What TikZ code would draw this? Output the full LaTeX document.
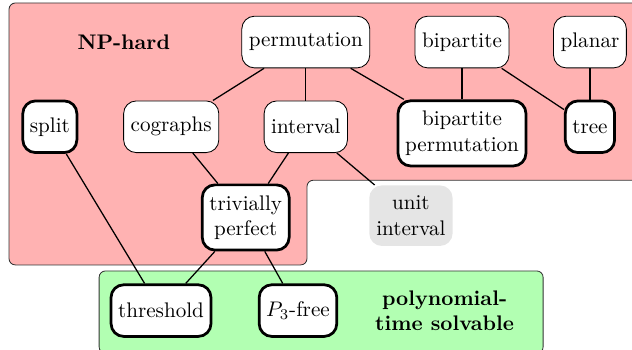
\documentclass[tikz,border=0pt]{standalone}
\usepackage{xcolor}
\usepackage{tikz}
\usetikzlibrary{arrows.meta, positioning, calc, backgrounds}
\usepackage{amsmath}

\begin{document}
\begin{tikzpicture}[
        class/.style={rectangle, rounded corners=6pt, draw, fill=white, minimum height=0.86cm, inner ysep=5pt, align=center},
        hard/.style={class, line width=1.3pt},
        open/.style={class, draw=none, fill=black!10},
        region/.style={draw=black!80, rounded corners=3pt},
        edge/.style={semithick}
    ]

    \useasboundingbox (0,0) rectangle (10.52,-5.81);

    % Regions
    \begin{scope}
    \clip (0,0) rectangle (10.52,-5.81);
    \draw[region, fill=red!30] (0.15,-0.05) -- (10.8,-0.05) -- (10.8,-3.0) -- (5.11,-3.0) -- (5.11,-4.41) -- (0.15,-4.41) -- cycle;
    \draw[region, fill=green!30] (1.65,-4.51) rectangle (9.04,-5.88);
    \end{scope}

    \node at (2.06,-0.70) (nphard) {\textbf{NP-hard}};
    \node[align=center, font=\bfseries] at (7.40,-5.17) (poly) {polynomial-\\time solvable};

    % Nodes
    \node[class] at (5.09,-0.70) (perm) {permutation};
    \node[class] at (7.69,-0.70) (bip) {bipartite};
    \node[class] at (9.82,-0.70) (planar) {planar};

    \node[hard] at (0.83,-2.11) (split) {split};
    \node[class] at (2.85,-2.11) (cograph) {cographs};
    \node[class] at (5.09,-2.11) (interval) {interval};
    \node[hard] at (7.69,-2.22) (bipperm) {bipartite\\permutation};
    \node[hard] at (9.82,-2.11) (tree) {tree};

    \node[hard] at (4.09,-3.62) (trivperf) {trivially\\perfect};
    \node[open] at (6.84,-3.59) (unitint) {unit\\interval};

    \node[hard] at (2.68,-5.17) (thresh) {threshold};
    \node[hard] at (4.96,-5.17) (pfree) {$P_3$-free};

    % Edges
    \draw[edge] (perm) -- (cograph);
    \draw[edge] (perm) -- (interval);
    \draw[edge] (perm) -- (bipperm);
    \draw[edge] (bip) -- (bipperm);
    \draw[edge] (bip) -- (tree);
    \draw[edge] (planar) -- (tree);
    \draw[edge] (split) -- (thresh);
    \draw[edge] (cograph) -- (trivperf);
    \draw[edge] (interval) -- (trivperf);
    \draw[edge] (interval) -- (unitint);
    \draw[edge] (trivperf) -- (thresh);
    \draw[edge] (trivperf) -- (pfree);

\end{tikzpicture}
\end{document}
